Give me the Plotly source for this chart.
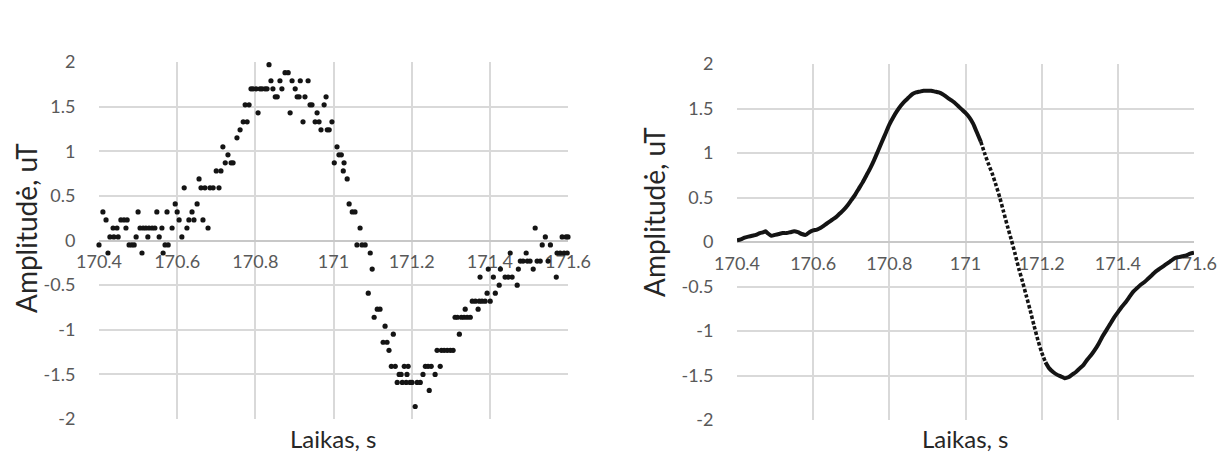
import plotly.graph_objects as go

# ---------------- data ----------------
x_ticks = [170.4, 170.6, 170.8, 171.0, 171.2, 171.4, 171.6]
x_tick_text = ["170.4", "170.6", "170.8", "171", "171.2", "171.4", "171.6"]
y_ticks = [-2, -1.5, -1, -0.5, 0, 0.5, 1, 1.5, 2]
y_tick_text = ["-2", "-1.5", "-1", "-0.5", "0", "0.5", "1", "1.5", "2"]

# left chart: raw (quantised) samples
t_left = [
    170.400, 170.410, 170.418, 170.423, 170.428, 170.436, 170.438, 170.446, 170.449, 170.456,
    170.464, 170.469, 170.472, 170.477, 170.484, 170.490, 170.495, 170.500, 170.505, 170.510,
    170.513, 170.520, 170.525, 170.528, 170.536, 170.543, 170.548, 170.554, 170.561, 170.564,
    170.569, 170.574, 170.577, 170.587, 170.595, 170.600, 170.605, 170.612, 170.618, 170.625,
    170.630, 170.638, 170.643, 170.651, 170.656, 170.661, 170.666, 170.671, 170.679, 170.684,
    170.692, 170.700, 170.707, 170.712, 170.717, 170.723, 170.730, 170.738, 170.743, 170.753,
    170.761, 170.769, 170.774, 170.779, 170.784, 170.789, 170.794, 170.802, 170.807, 170.812,
    170.817, 170.825, 170.830, 170.835, 170.840, 170.845, 170.851, 170.856, 170.863, 170.868,
    170.876, 170.884, 170.889, 170.894, 170.902, 170.907, 170.912, 170.915, 170.922, 170.927,
    170.935, 170.940, 170.945, 170.953, 170.958, 170.963, 170.968, 170.976, 170.981, 170.984,
    170.989, 170.996, 171.002, 171.009, 171.014, 171.020, 171.025, 171.027, 171.035, 171.040,
    171.048, 171.055, 171.060, 171.068, 171.073, 171.081, 171.089, 171.094, 171.099, 171.104,
    171.112, 171.119, 171.127, 171.132, 171.137, 171.142, 171.148, 171.153, 171.158, 171.163,
    171.168, 171.173, 171.176, 171.181, 171.186, 171.188, 171.191, 171.196, 171.201, 171.209,
    171.214, 171.222, 171.229, 171.235, 171.242, 171.245, 171.250, 171.260, 171.265, 171.273,
    171.276, 171.283, 171.291, 171.299, 171.306, 171.311, 171.317, 171.322, 171.327, 171.334,
    171.337, 171.342, 171.350, 171.355, 171.363, 171.370, 171.373, 171.375, 171.380, 171.388,
    171.393, 171.396, 171.401, 171.409, 171.414, 171.424, 171.427, 171.439, 171.447, 171.452,
    171.457, 171.470, 171.473, 171.478, 171.485, 171.493, 171.496, 171.503, 171.511, 171.516,
    171.521, 171.529, 171.534, 171.542, 171.549, 171.555, 171.570, 171.572, 171.580, 171.585,
    171.590, 171.595, 171.598, 171.600,
]
y_left = [
    -0.05, 0.32, 0.23, -0.14, 0.04, 0.14, 0.04, 0.14, 0.04, 0.23,
    0.23, 0.14, 0.23, -0.05, -0.05, -0.05, 0.04, 0.32, 0.14, -0.14,
    0.14, 0.14, 0.04, 0.14, 0.14, 0.14, 0.32, 0.04, 0.14, -0.14,
    -0.05, 0.32, -0.05, 0.14, 0.41, 0.32, 0.23, 0.04, 0.59, 0.14,
    0.23, 0.32, 0.23, 0.41, 0.69, 0.59, 0.23, 0.59, 0.14, 0.59,
    0.59, 0.78, 0.59, 0.78, 1.05, 0.87, 0.96, 0.87, 0.87, 1.15,
    1.24, 1.33, 1.52, 1.33, 1.52, 1.70, 1.70, 1.70, 1.43, 1.70,
    1.70, 1.70, 1.70, 1.97, 1.79, 1.70, 1.61, 1.61, 1.79, 1.70,
    1.88, 1.88, 1.43, 1.79, 1.70, 1.61, 1.61, 1.79, 1.33, 1.61,
    1.79, 1.52, 1.52, 1.33, 1.43, 1.33, 1.24, 1.52, 1.61, 1.24,
    1.24, 1.33, 0.87, 1.05, 0.96, 0.96, 0.78, 0.87, 0.69, 0.41,
    0.32, 0.32, -0.05, 0.14, -0.05, -0.05, -0.59, -0.14, -0.32, -0.86,
    -0.77, -0.77, -1.14, -0.96, -1.14, -1.23, -1.41, -1.05, -1.41, -1.59,
    -1.50, -1.50, -1.59, -1.41, -1.59, -1.50, -1.41, -1.59, -1.59, -1.86,
    -1.59, -1.59, -1.50, -1.41, -1.41, -1.68, -1.41, -1.50, -1.23, -1.41,
    -1.23, -1.23, -1.23, -1.23, -1.23, -0.86, -0.86, -1.05, -0.86, -0.86,
    -0.77, -0.86, -0.86, -0.68, -0.68, -0.77, -0.68, -0.41, -0.68, -0.68,
    -0.59, -0.32, -0.68, -0.41, -0.59, -0.50, -0.32, -0.41, -0.41, -0.14,
    -0.41, -0.50, -0.32, -0.23, -0.23, -0.14, -0.23, -0.23, -0.32, 0.14,
    -0.23, -0.23, -0.05, 0.04, -0.23, -0.05, -0.41, -0.14, -0.14, 0.04,
    -0.14, 0.04, -0.14, 0.04,
]

# right chart: filtered signal
t_right = [
    170.40, 170.41, 170.42, 170.43, 170.44, 170.45, 170.46, 170.47, 170.475, 170.48,
    170.49, 170.50, 170.51, 170.52, 170.53, 170.54, 170.55, 170.56, 170.57, 170.58,
    170.59, 170.60, 170.61, 170.62, 170.63, 170.64, 170.65, 170.66, 170.67, 170.68,
    170.69, 170.70, 170.71, 170.72, 170.73, 170.74, 170.75, 170.76, 170.77, 170.78,
    170.79, 170.80, 170.81, 170.82, 170.83, 170.84, 170.85, 170.86, 170.87, 170.88,
    170.89, 170.90, 170.91, 170.92, 170.93, 170.94, 170.95, 170.96, 170.97, 170.98,
    170.99, 171.00, 171.01, 171.02, 171.03, 171.04, 171.05, 171.06, 171.07, 171.08,
    171.09, 171.10, 171.11, 171.12, 171.13, 171.14, 171.15, 171.16, 171.17, 171.18,
    171.19, 171.20, 171.21, 171.22, 171.23, 171.24, 171.25, 171.26, 171.27, 171.28,
    171.29, 171.30, 171.31, 171.32, 171.33, 171.34, 171.35, 171.36, 171.37, 171.38,
    171.39, 171.40, 171.41, 171.42, 171.43, 171.44, 171.45, 171.46, 171.47, 171.48,
    171.49, 171.50, 171.51, 171.52, 171.53, 171.54, 171.55, 171.56, 171.57, 171.58,
    171.59, 171.60,
]
y_right = [
    0.02, 0.03, 0.05, 0.06, 0.07, 0.08, 0.10, 0.11, 0.12, 0.10,
    0.07, 0.08, 0.09, 0.10, 0.10, 0.11, 0.12, 0.11, 0.09, 0.08,
    0.11, 0.13, 0.14, 0.16, 0.19, 0.22, 0.25, 0.28, 0.32, 0.36,
    0.41, 0.47, 0.53, 0.60, 0.67, 0.75, 0.83, 0.92, 1.02, 1.12,
    1.22, 1.32, 1.40, 1.47, 1.53, 1.58, 1.62, 1.66, 1.68, 1.69,
    1.70, 1.70, 1.70, 1.69, 1.68, 1.66, 1.63, 1.60, 1.57, 1.53,
    1.49, 1.45, 1.40, 1.33, 1.23, 1.13, 1.00, 0.88, 0.77, 0.64,
    0.50, 0.34, 0.18, 0.03, -0.13, -0.30, -0.45, -0.61, -0.77, -0.94,
    -1.10, -1.24, -1.35, -1.42, -1.46, -1.49, -1.51, -1.53, -1.52, -1.49,
    -1.46, -1.42, -1.38, -1.32, -1.27, -1.21, -1.14, -1.06, -0.99, -0.92,
    -0.85, -0.79, -0.73, -0.68, -0.62, -0.56, -0.52, -0.48, -0.45, -0.41,
    -0.37, -0.33, -0.30, -0.27, -0.24, -0.21, -0.18, -0.17, -0.16, -0.15,
    -0.13, -0.12,
]

# ---------------- layout constants ----------------
W, H = 1217, 457
FONT = "Lato"
TICK_COLOR = "#595959"
TITLE_COLOR = "#262626"
GRID = "#d9d9d9"

L_X0, L_X1, L_Y0, L_Y1 = 99, 568, 62, 419
R_X0, R_X1, R_Y0, R_Y1 = 737, 1194, 64, 420


def px_dom(a, b):
    return [a / W, b / W]


def py_dom(top, bottom):
    return [1 - bottom / H, 1 - top / H]


ldom_y = py_dom(L_Y0, L_Y1)
rdom_y = py_dom(R_Y0, R_Y1)

fig = go.Figure()

fig.add_trace(go.Scatter(
    x=t_left, y=y_left, mode="markers", xaxis="x", yaxis="y",
    marker=dict(size=5.2, color="#141414"), showlegend=False, cliponaxis=False,
))

# split the right curve into solid / dotted / solid parts (style only)
steep_a, steep_b = 171.04, 171.21
idx1 = [i for i, t in enumerate(t_right) if t <= steep_a + 1e-9]
idx2 = [i for i, t in enumerate(t_right) if steep_a - 1e-9 <= t <= steep_b + 1e-9]
idx3 = [i for i, t in enumerate(t_right) if t >= steep_b - 1e-9]
for idx, dash in ((idx1, "solid"), (idx2, "3.5px,2px"), (idx3, "solid")):
    fig.add_trace(go.Scatter(
        x=[t_right[i] for i in idx], y=[y_right[i] for i in idx],
        mode="lines", xaxis="x2", yaxis="y2",
        line=dict(color="#141414", width=4 if dash == "solid" else 3.6, dash=dash,
                  shape="spline", smoothing=0.6),
        showlegend=False,
    ))

tickfont = dict(family=FONT, size=18, color=TICK_COLOR)


def xaxis_cfg(dom_x, dom_y):
    return dict(
        domain=dom_x, range=[170.4, 171.6], anchor="free",
        position=(dom_y[0] + dom_y[1]) / 2, automargin=False,
        tickmode="array", tickvals=x_ticks, ticktext=x_tick_text,
        showgrid=True, gridcolor=GRID, gridwidth=2,
        zeroline=False, showline=False,
        ticks="outside", ticklen=5, tickcolor="rgba(0,0,0,0)",
        ticklabeloverflow="allow",
        tickfont=tickfont, layer="below traces", fixedrange=True,
    )


def yaxis_cfg(dom_y, anchor):
    return dict(
        domain=dom_y, range=[-2, 2], anchor=anchor, automargin=False,
        tickmode="array", tickvals=y_ticks, ticktext=y_tick_text,
        showgrid=True, gridcolor=GRID, gridwidth=2,
        zeroline=True, zerolinecolor="#c8c8c8", zerolinewidth=2,
        showline=False,
        ticks="outside", ticklen=19, tickcolor="rgba(0,0,0,0)",
        ticklabeloverflow="allow",
        tickfont=tickfont, layer="below traces", fixedrange=True,
    )


fig.update_layout(
    template="none",
    width=W, height=H, autosize=False,
    margin=dict(l=0, r=0, t=0, b=0, pad=0),
    paper_bgcolor="white", plot_bgcolor="white",
    font=dict(family=FONT),
    xaxis=xaxis_cfg(px_dom(L_X0, L_X1), ldom_y),
    yaxis=yaxis_cfg(ldom_y, "x"),
    xaxis2=xaxis_cfg(px_dom(R_X0, R_X1), rdom_y),
    yaxis2=yaxis_cfg(rdom_y, "x2"),
)

xtitle_font = dict(family=FONT, size=24, color=TITLE_COLOR)
ytitle_font = dict(family=FONT, size=28, color=TITLE_COLOR)
annots = [
    dict(text="Laikas, s", x=(L_X0 + L_X1) / 2 / W, y=2 / H, yanchor="bottom", font=xtitle_font),
    dict(text="Laikas, s", x=(R_X0 + R_X1) / 2 / W, y=2 / H, yanchor="bottom", font=xtitle_font),
    dict(text="Amplitudė, uT", x=26 / W, y=1 - 228 / H, yanchor="middle", textangle=-90, font=ytitle_font),
    dict(text="Amplitudė, uT", x=654 / W, y=1 - 212 / H, yanchor="middle", textangle=-90, font=ytitle_font),
]
for a in annots:
    fig.add_annotation(xref="paper", yref="paper", showarrow=False,
                       xanchor="center", **a)

fig.write_html("out.html")
